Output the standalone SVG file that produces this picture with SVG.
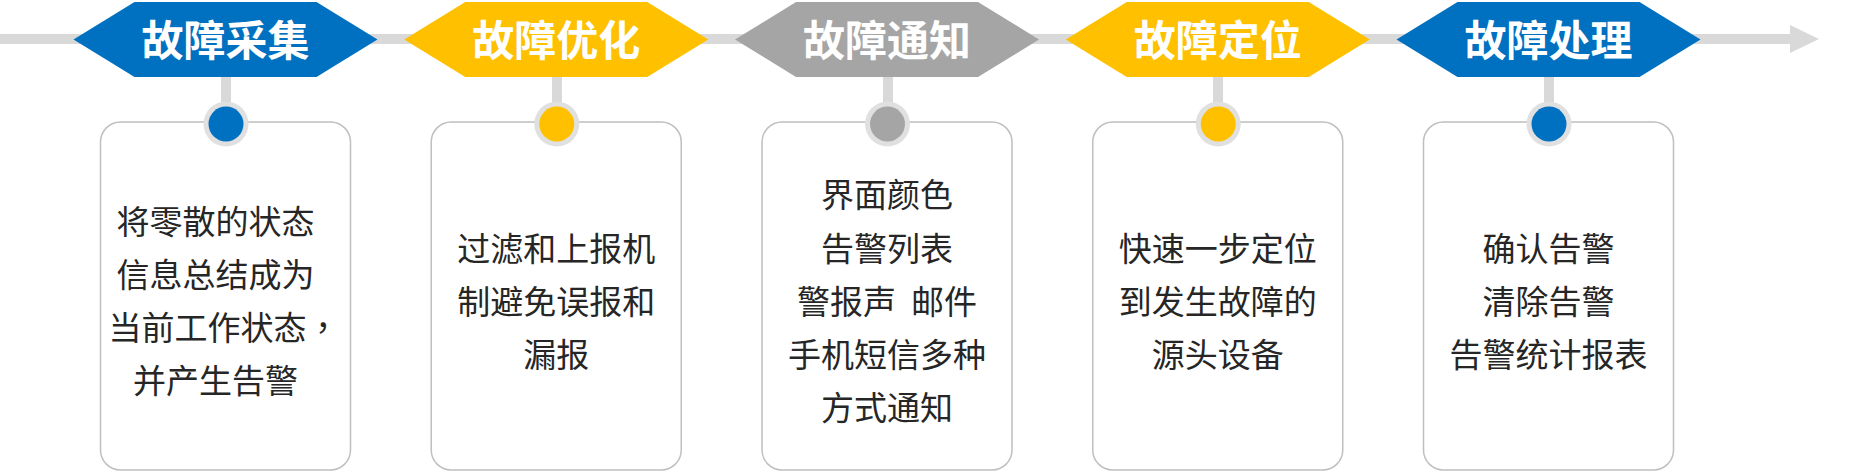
<svg xmlns="http://www.w3.org/2000/svg" width="1851" height="471" viewBox="0 0 1851 471">
<style>
.title{font-family:"Noto Sans CJK SC","Noto Sans",sans-serif;font-weight:bold;font-size:42px;fill:#FFFFFF;text-anchor:middle;dominant-baseline:central}
.body{font-family:"Noto Sans CJK SC","Noto Sans",sans-serif;font-size:33px;fill:#262626;text-anchor:middle;dominant-baseline:central}
.start{text-anchor:start}
.tc{font-family:"Noto Sans CJK TC","Noto Sans CJK SC",sans-serif}
.card{fill:#FFFFFF;stroke:#BFBFBF;stroke-width:1.5}
.ring{fill:#E0E0E0}
.conn{fill:#D9D9D9}
.blue{fill:#0070C0}
.yellow{fill:#FFC000}
.gray{fill:#A5A5A5}
</style>
<defs>
<path id="hex" d="M-152,39.5 L-91,2 L91,2 L152,39.5 L91,77 L-91,77 Z"/>
</defs>
<g id="connectors">
<rect class="conn" x="0" y="34" width="1791" height="10"/>
<polygon class="conn" points="1790,25 1819,39 1790,53"/>
<rect class="conn" x="221" y="76" width="10" height="32"/>
<rect class="conn" x="552" y="76" width="10" height="32"/>
<rect class="conn" x="883" y="76" width="10" height="32"/>
<rect class="conn" x="1213" y="76" width="10" height="32"/>
<rect class="conn" x="1544" y="76" width="10" height="32"/>
</g>
<g id="node1" transform="translate(225.5,0)">
<use href="#hex" class="blue"/>
<text class="title" x="0" y="37">故障采集</text>
<rect class="card" x="-125" y="122" width="250" height="348" rx="20"/>
<circle class="ring" cx="0.5" cy="124" r="22.5"/>
<circle class="blue" cx="0.5" cy="124" r="17.5"/>
<text class="body" x="-10" y="220">将零散的状态</text>
<text class="body" x="-10" y="273">信息总结成为</text>
<text class="body start" x="-117" y="326">当前工作状态<tspan class="tc">，</tspan></text>
<text class="body" x="-10" y="379">并产生告警</text>
</g>
<g id="node2" transform="translate(556.25,0)">
<use href="#hex" class="yellow"/>
<text class="title" x="0" y="37">故障优化</text>
<rect class="card" x="-125" y="122" width="250" height="348" rx="20"/>
<circle class="ring" cx="0.5" cy="124" r="22.5"/>
<circle class="yellow" cx="0.5" cy="124" r="17.5"/>
<text class="body" x="0" y="247">过滤和上报机</text>
<text class="body" x="0" y="300">制避免误报和</text>
<text class="body" x="0" y="353">漏报</text>
</g>
<g id="node3" transform="translate(887,0)">
<use href="#hex" class="gray"/>
<text class="title" x="0" y="37">故障通知</text>
<rect class="card" x="-125" y="122" width="250" height="348" rx="20"/>
<circle class="ring" cx="0.5" cy="124" r="22.5"/>
<circle class="gray" cx="0.5" cy="124" r="17.5"/>
<text class="body" x="0" y="193">界面颜色</text>
<text class="body" x="0" y="247">告警列表</text>
<text class="body" x="0" y="300">警报声&#160;&#160;邮件</text>
<text class="body" x="0" y="353">手机短信多种</text>
<text class="body" x="0" y="406">方式通知</text>
</g>
<g id="node4" transform="translate(1217.75,0)">
<use href="#hex" class="yellow"/>
<text class="title" x="0" y="37">故障定位</text>
<rect class="card" x="-125" y="122" width="250" height="348" rx="20"/>
<circle class="ring" cx="0.5" cy="124" r="22.5"/>
<circle class="yellow" cx="0.5" cy="124" r="17.5"/>
<text class="body" x="0" y="247">快速一步定位</text>
<text class="body" x="0" y="300">到发生故障的</text>
<text class="body" x="0" y="353">源头设备</text>
</g>
<g id="node5" transform="translate(1548.5,0)">
<use href="#hex" class="blue"/>
<text class="title" x="0" y="37">故障处理</text>
<rect class="card" x="-125" y="122" width="250" height="348" rx="20"/>
<circle class="ring" cx="0.5" cy="124" r="22.5"/>
<circle class="blue" cx="0.5" cy="124" r="17.5"/>
<text class="body" x="0" y="247">确认告警</text>
<text class="body" x="0" y="300">清除告警</text>
<text class="body" x="0" y="353">告警统计报表</text>
</g>
</svg>
